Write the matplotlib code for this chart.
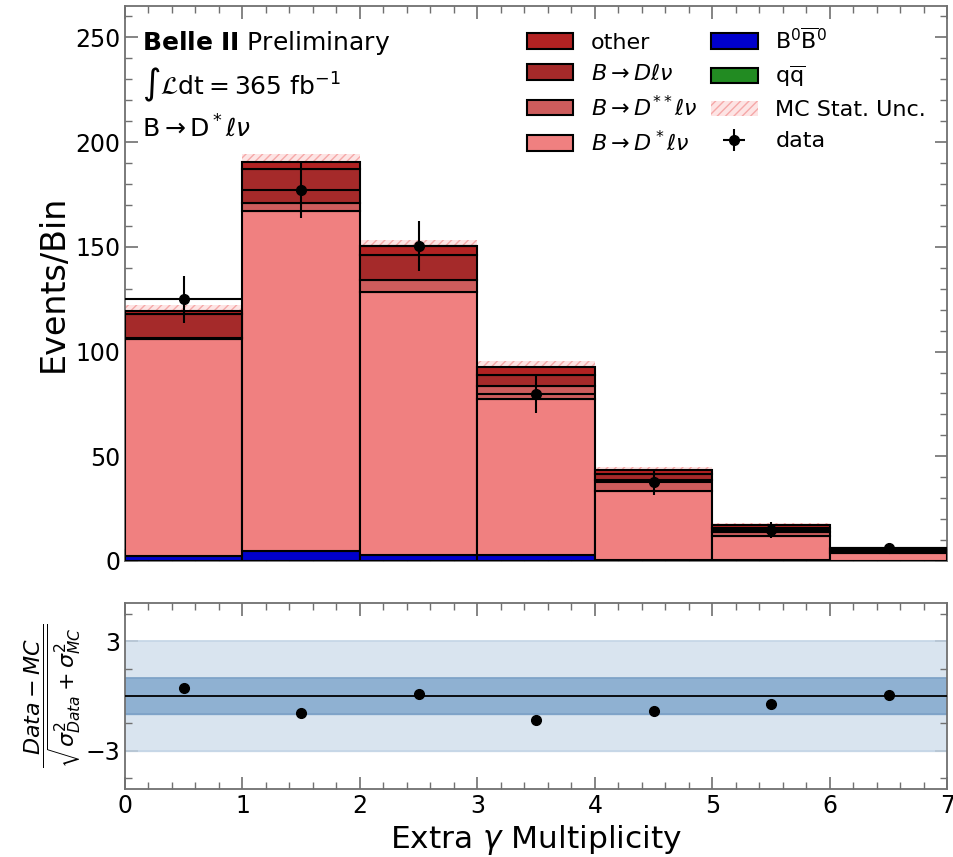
import matplotlib.pyplot as plt
import numpy as np
from matplotlib.patches import Patch
from matplotlib.ticker import MultipleLocator, FixedLocator

# bin edges / centres for "Extra gamma multiplicity"
edges = np.arange(0, 8)
centers = edges[:-1] + 0.5

# stacked MC components (events per bin), bottom -> top
qqbar = [0.2, 0.2, 0.2, 0.2, 0.2, 0.1, 0.0]
b0b0 = [2.0, 4.4, 2.8, 2.5, 0.3, 0.2, 0.1]
dstar = [104.0, 162.5, 125.6, 74.7, 33.1, 11.7, 3.6]
dstarstar = [0.5, 4.0, 5.5, 6.3, 5.2, 2.0, 1.3]
dlnu = [11.0, 16.3, 12.0, 5.3, 2.8, 1.6, 0.6]
other = [1.6, 3.2, 4.4, 3.7, 1.9, 1.6, 0.5]
mc_unc = [2.9, 3.7, 2.9, 2.7, 1.6, 1.0, 0.5]

# data
data = [125.0, 177.0, 150.5, 79.7, 37.5, 14.8, 6.1]
data_err = [11.2, 13.3, 12.0, 9.0, 6.0, 3.6, 2.5]

# pulls (Data - MC)/sqrt(sig_data^2 + sig_mc^2)
pull = [0.44, -0.94, 0.10, -1.33, -0.83, -0.44, 0.05]

components = [
    (qqbar, 'forestgreen', r'$\mathrm{q\overline{q}}$'),
    (b0b0, '#0000cd', r'$\mathrm{B^0\overline{B}^0}$'),
    (dstar, 'lightcoral', r'$B\rightarrow D^*\ell\nu$'),
    (dstarstar, 'indianred', r'$B\rightarrow D^{**}\ell\nu$'),
    (dlnu, 'brown', r'$B\rightarrow D\ell\nu$'),
    (other, 'firebrick', 'other'),
]

plt.rcParams['mathtext.fontset'] = 'dejavusans'
gray = '#707070'

fig = plt.figure(figsize=(9.54, 8.57), dpi=100)
ax = fig.add_axes([0.131, 0.3454, 0.862, 0.6476])
axr = fig.add_axes([0.131, 0.0793, 0.862, 0.2171])

# stacked histogram
bottom = np.zeros(7)
handles = {}
for vals, col, lab in components:
    vals = np.array(vals)
    ax.bar(edges[:-1], vals, width=1, align='edge', bottom=bottom,
           color=col, edgecolor='black', linewidth=1.5, zorder=3)
    handles[lab] = Patch(facecolor=col, edgecolor='black', linewidth=1.5)
    bottom = bottom + vals
total = bottom

# MC stat uncertainty band
unc = np.array(mc_unc)
ax.fill_between(edges, np.append(total - unc, (total - unc)[-1]),
                np.append(total + unc, (total + unc)[-1]), step='post',
                facecolor='#fde4e4', edgecolor='#f5a8a8', hatch='////',
                linewidth=0, zorder=2)
unc_handle = Patch(facecolor='#fde4e4', edgecolor='#f5a8a8', hatch='////', linewidth=0)

# data
eb = ax.errorbar(centers, data, yerr=data_err, xerr=0.5, fmt='o', color='black',
                 markersize=7, elinewidth=1.5, capsize=0, zorder=5)

ax.set_xlim(0, 7)
ax.set_ylim(0, 265)
ax.set_ylabel('Events/Bin', fontsize=24)
ax.yaxis.set_major_locator(MultipleLocator(50))
ax.yaxis.set_minor_locator(MultipleLocator(10))
ax.xaxis.set_major_locator(MultipleLocator(1))
ax.xaxis.set_minor_locator(MultipleLocator(0.2))
ax.tick_params(labelbottom=False)

ax.text(0.021, 0.933, r'$\mathbf{Belle\ II}$ Preliminary', transform=ax.transAxes,
        fontsize=18, va='center')
ax.text(0.021, 0.858, r'$\int\mathcal{L}\mathrm{dt} = 365\ \mathrm{fb}^{-1}$',
        transform=ax.transAxes, fontsize=18, va='center')
ax.text(0.021, 0.780, r'$\mathrm{B}\rightarrow\mathrm{D}^*\ell\nu$',
        transform=ax.transAxes, fontsize=18, va='center')

leg_order = ['other', r'$B\rightarrow D\ell\nu$', r'$B\rightarrow D^{**}\ell\nu$',
             r'$B\rightarrow D^*\ell\nu$', r'$\mathrm{B^0\overline{B}^0}$',
             r'$\mathrm{q\overline{q}}$']
h = [handles[k] for k in leg_order] + [unc_handle, eb]
l = leg_order + ['MC Stat. Unc.', 'data']
ax.legend(h, l, ncol=2, loc='upper right', frameon=False, fontsize=16,
          handlelength=2.1, handletextpad=0.8, columnspacing=0.6,
          labelspacing=0.5, borderaxespad=0.55, bbox_to_anchor=(1.0, 1.0))

# pull panel
axr.axhspan(-3, 3, color='#d9e4ef', zorder=1)
axr.axhspan(-1, 1, color='#8fb1d2', zorder=2)
for yv in (-3, 3):
    axr.axhline(yv, color='#c4d5e6', linewidth=1.2, zorder=2)
for yv in (-1, 1):
    axr.axhline(yv, color='#7ca1c6', linewidth=1.2, zorder=2)
axr.axhline(0, color='black', linewidth=1.3, zorder=3)
axr.plot(centers, pull, 'o', color='black', markersize=7, zorder=4)
axr.set_xlim(0, 7)
axr.set_ylim(-5.1, 5.1)
axr.yaxis.set_major_locator(FixedLocator([-3, 3]))
axr.yaxis.set_minor_locator(MultipleLocator(1.5))
axr.xaxis.set_major_locator(MultipleLocator(1))
axr.xaxis.set_minor_locator(MultipleLocator(0.2))
axr.set_xlabel(r'Extra $\gamma$ Multiplicity', fontsize=22.5)
axr.set_ylabel(r'$\dfrac{Data - MC}{\sqrt{\sigma^2_{Data} + \sigma^2_{MC}}}$', fontsize=16,
               labelpad=2)

for a in (ax, axr):
    a.tick_params(which='both', direction='in', top=True, right=True, color=gray)
    a.tick_params(which='major', length=9, width=1.2, labelsize=17)
    a.tick_params(which='minor', length=5, width=1.0)
    for s in a.spines.values():
        s.set_color(gray)
        s.set_linewidth(1.3)

plt.savefig('out.png', dpi=100)
